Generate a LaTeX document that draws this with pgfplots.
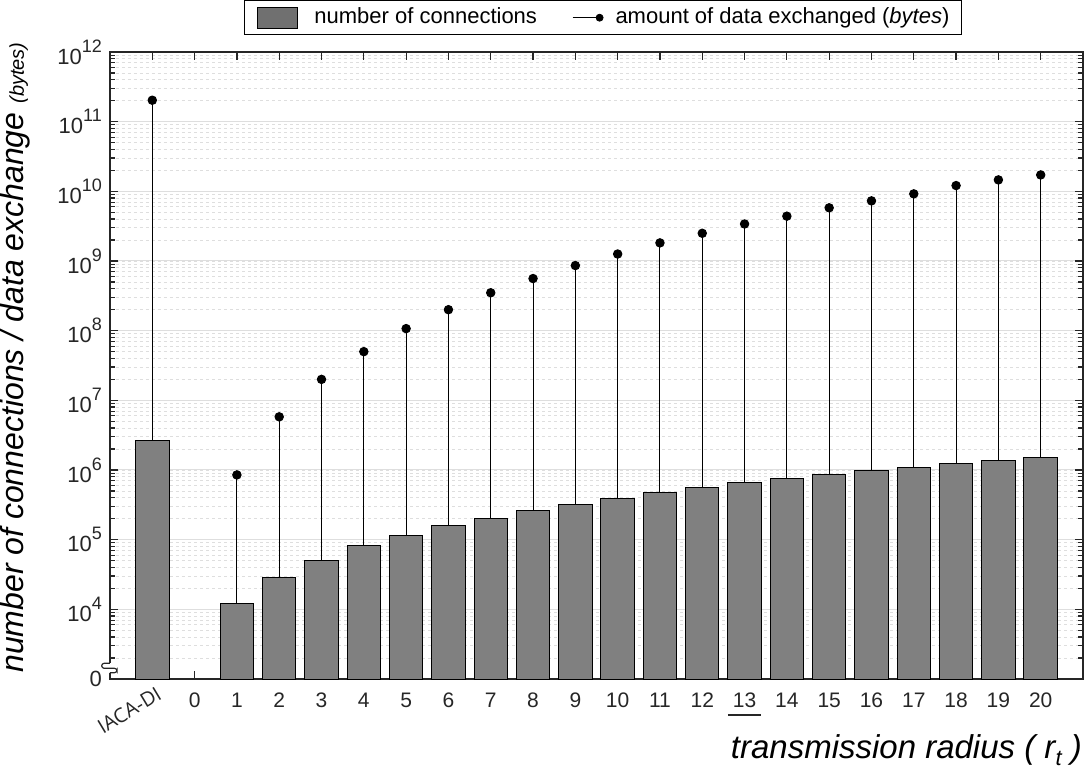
\documentclass[border=0pt]{standalone}
\usepackage{pgfplots}
\usepackage{pgfplotstable}
\pgfplotsset{compat=1.18}
\usepackage{fontspec}
\setmainfont{Liberation Sans}
\newfontfamily\osfont{Open Sans}
\definecolor{barfill}{RGB}{128,128,128}
\definecolor{legfill}{RGB}{112,112,112}
\definecolor{axcol}{RGB}{38,38,38}
\definecolor{gridcol}{RGB}{222,222,222}
\newcommand\tp[1]{10\raisebox{0.55em}{\fontsize{18}{18}\selectfont #1}}

\pgfplotstableread{
x conn data
-1 2.61e6 2.03e11
1 1.2e4 8.5e5
2 2.9e4 5.8e6
3 5.1e4 2.0e7
4 8.2e4 5.0e7
5 1.14e5 1.07e8
6 1.59e5 2.0e8
7 2.0e5 3.5e8
8 2.6e5 5.6e8
9 3.2e5 8.6e8
10 3.9e5 1.26e9
11 4.7e5 1.82e9
12 5.6e5 2.5e9
13 6.6e5 3.4e9
14 7.5e5 4.4e9
15 8.6e5 5.8e9
16 9.8e5 7.3e9
17 1.07e6 9.2e9
18 1.22e6 1.21e10
19 1.35e6 1.46e10
20 1.49e6 1.72e10
}\datatable

\begin{document}
\begin{tikzpicture}
\begin{axis}[
  scale only axis, width=973pt, height=627pt,
  ymode=log, ymin=1e3, ymax=1e12, log origin y=infty,
  xmin=-2, xmax=21,
  xtick={-1,0,...,20},
  xticklabels={{\makebox[0pt]{\osfont\fontsize{20}{20}\selectfont\raisebox{7pt}[\height]{\rotatebox{31}{IACA-DI}}\hspace{46pt}}},0,1,2,3,4,5,6,7,8,9,10,11,12,{\makebox[0pt][l]{\hspace{-5pt}\rule[-8pt]{33pt}{2pt}}13},14,15,16,17,18,19,20},
  ytick={1e3,1e4,1e5,1e6,1e7,1e8,1e9,1e10,1e11,1e12},
  yticklabels={{0\hspace{11pt}},\tp{4},\tp{5},\tp{6},\tp{7},\tp{8},\tp{9},\tp{10},\tp{11},\tp{12}},
  tick align=inside,
  major tick length=8pt, minor tick length=5pt,
  ymajorgrids, yminorgrids,
  major grid style={gridcol, line width=1pt},
  minor grid style={gridcol, line width=0.8pt, dash pattern=on 3pt off 3pt},
  axis line style={axcol, line width=1.2pt},
  every tick/.style={axcol, line width=1.2pt},
  xticklabel style={font=\fontsize{21}{25}\selectfont, text=axcol, inner sep=0pt, yshift=-14pt},
  yticklabel style={font=\fontsize{22}{26}\selectfont, text=axcol, inner sep=0pt, xshift=-8pt},
  ylabel={\itshape number of connections / data exchange {\fontsize{20}{20}\selectfont (bytes)}},
  ylabel style={font=\fontsize{32}{38}\selectfont, inner sep=0pt, at={(axis description cs:-0.0884,0.0096)}, anchor=base west},
  xlabel={\itshape transmission radius ( r\raisebox{-0.22em}{\fontsize{22}{22}\selectfont t} )},
  xlabel style={font=\fontsize{33}{38}\selectfont, inner sep=0pt, at={(axis description cs:1,0)}, anchor=base east, yshift=-79pt, xshift=-1pt},
  legend columns=2,
  legend style={at={(axis description cs:0.5067,1)}, anchor=south, yshift=17pt,
    draw=black, line width=0.8pt, font=\fontsize{22}{26}\selectfont,
    inner xsep=12pt, inner ysep=6pt, column sep=0pt,
    nodes={inner sep=0pt, text height=16pt, text depth=5pt}},
]
\addplot[ycomb, black, line width=1pt, mark=*, mark size=4.2pt, forget plot] table[x=x, y=data] {\datatable};
\addplot[ybar, bar width=0.79, fill=barfill, draw=black, line width=1pt,
  legend image code/.code={\draw[fill=legfill, draw=black, line width=0.8pt] (0pt,-10.5pt) rectangle (40pt,10.5pt);}]
  table[x=x, y=conn] {\datatable};
\addlegendentry{\rule{17pt}{0pt}number of connections\rule{35pt}{0pt}}
\addlegendimage{legend image code/.code={\draw[black, line width=1.2pt] (0pt,0pt) -- (27pt,0pt); \fill[black] (27pt,0pt) circle (3.5pt);}}
\addlegendentry{\rule{12pt}{0pt}amount of data exchanged (\textit{bytes})}
\end{axis}
\begin{scope}[shift={(current axis.south west)}]
\fill[white] (-1.5pt,6.3pt) rectangle (1.5pt,15.7pt);
\draw[axcol, line width=1.2pt, rounded corners=2.5pt] (0pt,15.7pt) -- (-8.3pt,15.7pt) -- (-8.3pt,10.7pt) -- (7pt,10.7pt) -- (7pt,6.3pt) -- (0pt,6.3pt);
\end{scope}
\pgfresetboundingbox
\useasboundingbox (current axis.south west) ++(-110pt,-90pt) rectangle ++(1084pt,769pt);
\end{tikzpicture}
\end{document}
